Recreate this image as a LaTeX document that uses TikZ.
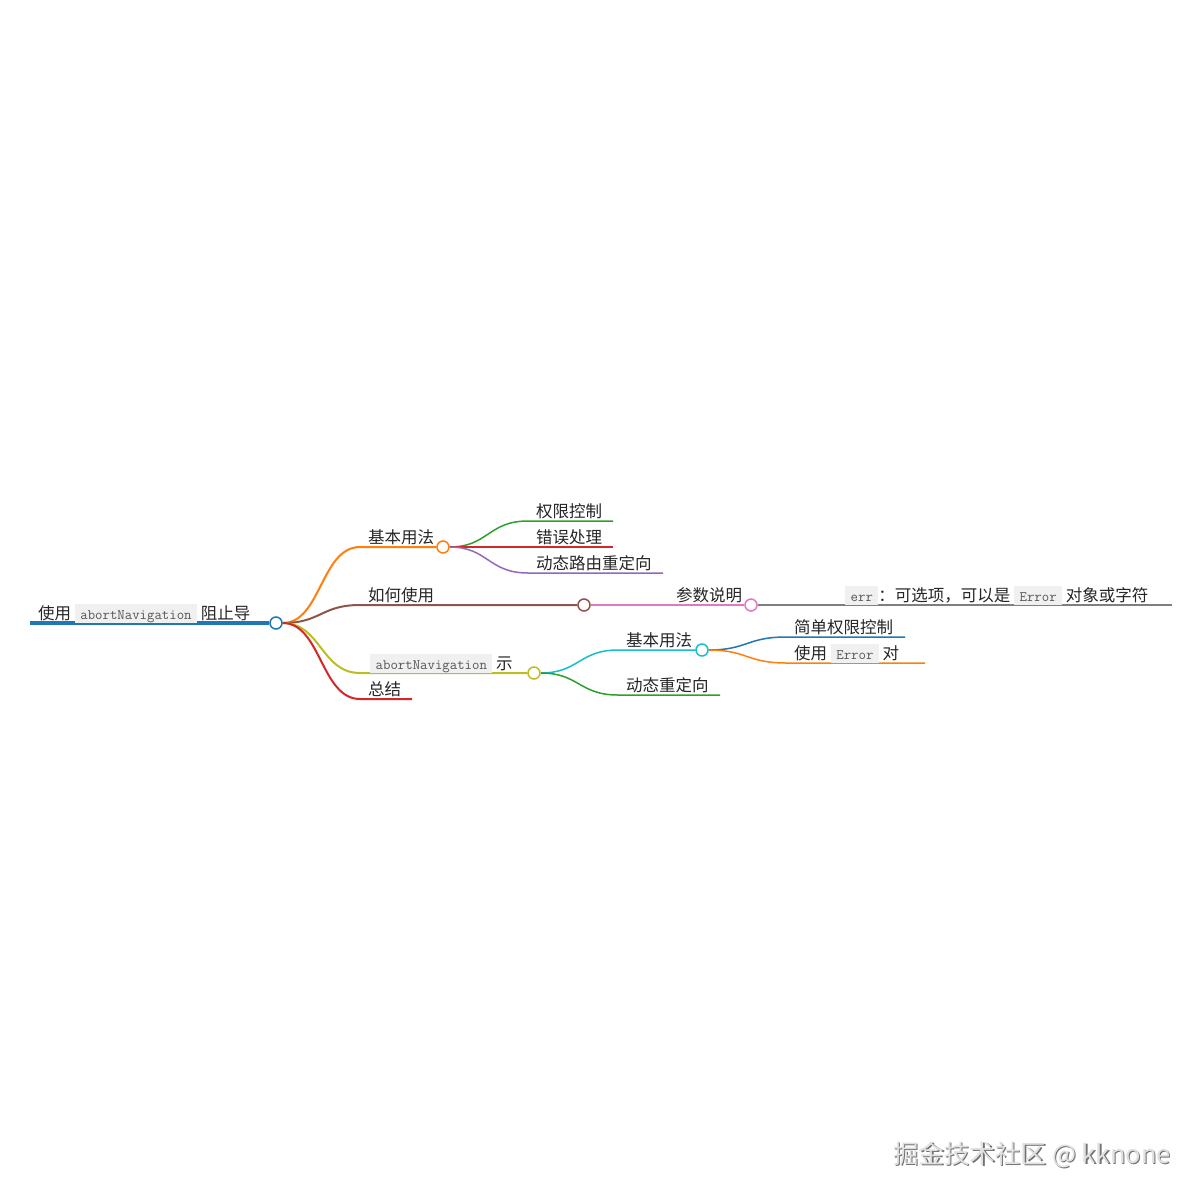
\documentclass[tikz,border=0pt]{standalone}
\usepackage{fontspec}
\setmainfont{Noto Sans CJK SC}
\pgfdeclarelayer{back}
\pgfdeclarelayer{bg}
\pgfsetlayers{back,bg,main}
\definecolor{cblue}{HTML}{1F77B4}
\definecolor{corange}{HTML}{FF7F0E}
\definecolor{cgreen}{HTML}{2CA02C}
\definecolor{cred}{HTML}{D62728}
\definecolor{cpurple}{HTML}{9467BD}
\definecolor{cbrown}{HTML}{8C564B}
\definecolor{cpink}{HTML}{E377C2}
\definecolor{cgray}{HTML}{7F7F7F}
\definecolor{colive}{HTML}{BCBD22}
\definecolor{ccyan}{HTML}{17BECF}
\definecolor{codebg}{HTML}{F0F0F0}
\definecolor{codefg}{HTML}{555555}
\newcommand\mmfs{\fontsize{16.5}{20}\selectfont}
\newcommand\cd[1]{{\setlength\fboxsep{0pt}\colorbox{codebg}{\rule[-3pt]{0pt}{19pt}\hspace{5.5pt}{\fontsize{14.4}{16}\selectfont\ttfamily\color{codefg}#1}\hspace{5.5pt}}}}
\tikzset{
  mmdot/.style={circle, draw=#1, fill=white, line width=1.5pt, minimum size=12pt, inner sep=0pt},
  lbl/.style={anchor=base west, inner sep=0pt, font=\mmfs, text=black!85},
  br/.style={line width=2pt},
  lf/.style={line width=1.5pt},
}
\begin{document}
\begin{tikzpicture}[x=1pt,y=-1pt]
\begin{pgfonlayer}{back}
\fill[white] (0,0) rectangle (1200,1200);
\end{pgfonlayer}
\useasboundingbox (0,0) rectangle (1200,1200);
% circles
\node[mmdot=cblue] (r) at (276,623) {};
\node[mmdot=corange] (a) at (443,547) {};
\node[mmdot=cbrown] (b) at (584,605) {};
\node[mmdot=cpink] (b1) at (751,605) {};
\node[mmdot=colive] (c) at (534,673) {};
\node[mmdot=ccyan] (c1) at (702,650) {};
% coordinates
\coordinate (rs) at (30,623);
\coordinate (as) at (360,547);
\coordinate (a1s) at (528,521); \coordinate (a1e) at (613,521);
\coordinate (a2s) at (528,547); \coordinate (a2e) at (613,547);
\coordinate (a3s) at (528,573); \coordinate (a3e) at (663,573);
\coordinate (bs) at (360,605);
\coordinate (b1s) at (668,605);
\coordinate (b11s) at (837,605); \coordinate (b11e) at (1172,605);
\coordinate (cs) at (360,673);
\coordinate (c1s) at (618,650);
\coordinate (c11s) at (786,637); \coordinate (c11e) at (905,637);
\coordinate (c12s) at (786,663); \coordinate (c12e) at (925,663);
\coordinate (c2s) at (618,695); \coordinate (c2e) at (720,695);
\coordinate (ds) at (360,699); \coordinate (de) at (412,699);
% labels
\node[lbl] (tr) at (38,619.5) {使用 \cd{abortNavigation} 阻止导};
\node[lbl] (ta) at (368,543.5) {基本用法};
\node[lbl] (ta1) at (536,517.5) {权限控制};
\node[lbl] (ta2) at (536,543.5) {错误处理};
\node[lbl] (ta3) at (536,569.5) {动态路由重定向};
\node[lbl] (tb) at (368,601.5) {如何使用};
\node[lbl] (tb1) at (676,601.5) {参数说明};
\node[lbl] (tb11) at (845,601.5) {\cd{err}：可选项，可以是 \cd{Error} 对象或字符};
\node[lbl] (tc) at (370,669.5) {\cd{abortNavigation} 示};
\node[lbl] (tc1) at (626,646.5) {基本用法};
\node[lbl] (tc11) at (794,633.5) {简单权限控制};
\node[lbl] (tc12) at (794,659.5) {使用 \cd{Error} 对};
\node[lbl] (tc2) at (626,691.5) {动态重定向};
\node[lbl] (td) at (368,695.5) {总结};
% connectors
\begin{pgfonlayer}{bg}
\draw[cblue, line width=4.5pt] (rs) -- (r.west);
\draw[br, corange] (r.east) .. controls (321,623) and (321,547) .. (as) -- (a.west);
\draw[br, cbrown] (r.east) .. controls (321,623) and (321,605) .. (bs) -- (b.west);
\draw[br, colive] (r.east) .. controls (321,623) and (321,673) .. (cs) -- (c.west);
\draw[br, cred] (r.east) .. controls (321,623) and (321,699) .. (ds) -- (de);
\draw[lf, cgreen] (a.east) .. controls (488,547) and (488,521) .. (a1s) -- (a1e);
\draw[lf, cred] (a.east) -- (a2s) -- (a2e);
\draw[lf, cpurple] (a.east) .. controls (488,547) and (488,573) .. (a3s) -- (a3e);
\draw[lf, cpink] (b.east) -- (b1s) -- (b1.west);
\draw[lf, cgray] (b1.east) -- (b11s) -- (b11e);
\draw[lf, ccyan] (c.east) .. controls (579,673) and (579,650) .. (c1s) -- (c1.west);
\draw[lf, cgreen] (c.east) .. controls (579,673) and (579,695) .. (c2s) -- (c2e);
\draw[lf, cblue] (c1.east) .. controls (747,650) and (747,637) .. (c11s) -- (c11e);
\draw[lf, corange] (c1.east) .. controls (747,650) and (747,663) .. (c12s) -- (c12e);
\end{pgfonlayer}
% watermark
\node[anchor=center, inner sep=0pt, font=\fontsize{25.5}{30}\selectfont, text=black!55] (wms) at (1033.2,1156.2) {掘金技术社区 @ kknone};
\node[anchor=center, inner sep=0pt, font=\fontsize{25.5}{30}\selectfont, text=black!12] (wm) at (1032,1155) {掘金技术社区 @ kknone};
\end{tikzpicture}
\end{document}
